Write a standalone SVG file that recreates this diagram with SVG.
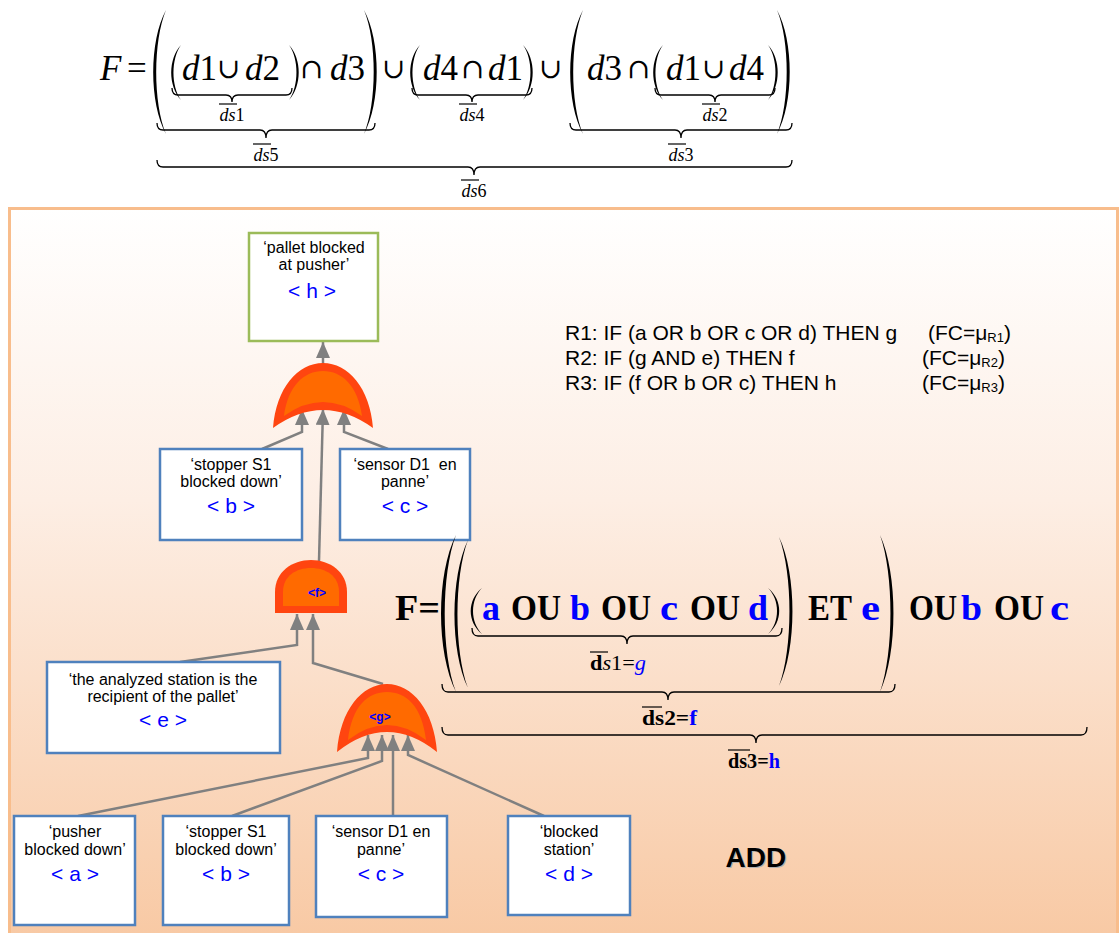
<svg xmlns="http://www.w3.org/2000/svg" width="1120" height="933" viewBox="0 0 1120 933">
<defs>
<linearGradient id="bg" x1="0" y1="0" x2="0" y2="1">
<stop offset="0" stop-color="#ffffff"/>
<stop offset="0.4" stop-color="#fdeee4"/>
<stop offset="1" stop-color="#f8c9a4"/>
</linearGradient>
<marker id="ah" viewBox="0 0 16 14" refX="16" refY="7" markerWidth="16" markerHeight="14" markerUnits="userSpaceOnUse" orient="auto"><path d="M0,0 L16,7 L0,14 Z" fill="#808080"/></marker>
</defs>
<style>
.m{font-family:"Liberation Serif","DejaVu Serif",serif;font-size:35px;fill:#000}
.op{font-family:"DejaVu Serif",serif;font-size:28px;fill:#000}
.i{font-style:italic}
.lbl{font-family:"Liberation Serif",serif;font-size:18px;fill:#000;text-anchor:middle}
.br{fill:none;stroke:#000;stroke-width:1.3}
.ol{stroke:#000;stroke-width:1.2}
.par{fill:#000}
.box{fill:#fff;stroke:#4f81bd;stroke-width:2.5}
.t{font-family:"Liberation Sans",Arial,sans-serif;font-size:16px;fill:#000;text-anchor:middle}
.v{font-family:"Liberation Sans",Arial,sans-serif;font-size:21px;fill:#0000ff;text-anchor:middle}
.cn{fill:none;stroke:#808080;stroke-width:2.5;marker-end:url(#ah)}
.go{fill:#ff4510}
.gi{fill:#ff6a00}
.gl{font-family:"Liberation Sans",Arial,sans-serif;font-weight:bold;font-size:12px;fill:#0000ff;text-anchor:middle}
.b{font-family:"Liberation Serif",serif;font-weight:bold;font-size:36px;fill:#000}
.bl{fill:#0000ff}
.sl{font-family:"Liberation Serif",serif;font-weight:bold;font-size:20px;fill:#000}
.r{font-family:"Liberation Sans",Arial,sans-serif;font-size:21px;fill:#000}
</style>
<rect width="1120" height="933" fill="#fff"/>

<!-- top formula -->
<g id="formula-top">
<text class="m i" x="100" y="80">F</text>
<text class="m" x="127" y="80">=</text>
<path class="par" d="M166,10 C149,41 149,103 166,134 C153,103 153,41 166,10 Z"/>
<path class="par" d="M364,10 C381,41 381,103 364,134 C377,103 377,41 364,10 Z"/>
<path class="par" d="M583,10 C566,41 566,103 583,134 C570,103 570,41 583,10 Z"/>
<path class="par" d="M777,10 C794,41 794,103 777,134 C790,103 790,41 777,10 Z"/>
<path class="par" d="M181,45 C168,59 168,86 181,100 C171,86 171,59 181,45 Z"/>
<path class="par" d="M289,45 C302,59 302,86 289,100 C299,86 299,59 289,45 Z"/>
<path class="par" d="M420,45 C407,59 407,86 420,100 C410,86 410,59 420,45 Z"/>
<path class="par" d="M523,45 C536,59 536,86 523,100 C533,86 533,59 523,45 Z"/>
<path class="par" d="M663,45 C650,59 650,86 663,100 C653,86 653,59 663,45 Z"/>
<path class="par" d="M768,45 C781,59 781,86 768,100 C778,86 778,59 768,45 Z"/>
<text class="m" x="182" y="80"><tspan class="i">d</tspan>1</text>
<text class="op" x="217" y="78">∪</text>
<text class="m" x="245" y="80"><tspan class="i">d</tspan>2</text>
<text class="op" x="300" y="78">∩</text>
<text class="m" x="330" y="80"><tspan class="i">d</tspan>3</text>
<text class="op" x="382" y="78">∪</text>
<text class="m" x="423" y="80"><tspan class="i">d</tspan>4</text>
<text class="op" x="461" y="78">∩</text>
<text class="m" x="488" y="80"><tspan class="i">d</tspan>1</text>
<text class="op" x="539" y="78">∪</text>
<text class="m" x="587" y="80"><tspan class="i">d</tspan>3</text>
<text class="op" x="627" y="78">∩</text>
<text class="m" x="666" y="80"><tspan class="i">d</tspan>1</text>
<text class="op" x="702" y="78">∪</text>
<text class="m" x="729" y="80"><tspan class="i">d</tspan>4</text>
<path class="br" d="M172,88 Q172,95 178,95 L226,95 Q232,95 232,102 Q232,95 238,95 L286,95 Q292,95 292,88"/>
<path class="br" d="M412,88 Q412,95 418,95 L466,95 Q472,95 472,102 Q472,95 478,95 L526,95 Q532,95 532,88"/>
<path class="br" d="M655,88 Q655,95 661,95 L709,95 Q715,95 715,102 Q715,95 721,95 L769,95 Q775,95 775,88"/>
<path class="br" d="M157,123 Q157,130 163,130 L260,130 Q266,130 266,138 Q266,130 272,130 L369,130 Q375,130 375,123"/>
<path class="br" d="M570,123 Q570,130 576,130 L675,130 Q681,130 681,138 Q681,130 687,130 L786,130 Q792,130 792,123"/>
<path class="br" d="M157,160 Q157,167 163,167 L468,167 Q474,167 474,175 Q474,167 480,167 L786,167 Q792,167 792,160"/>
<text class="lbl" x="232" y="121"><tspan class="i">ds</tspan>1</text>
<line class="ol" x1="219" y1="104" x2="237" y2="104"/>
<text class="lbl" x="472" y="121"><tspan class="i">ds</tspan>4</text>
<line class="ol" x1="459" y1="104" x2="477" y2="104"/>
<text class="lbl" x="715" y="121"><tspan class="i">ds</tspan>2</text>
<line class="ol" x1="702" y1="104" x2="720" y2="104"/>
<text class="lbl" x="266" y="161"><tspan class="i">ds</tspan>5</text>
<line class="ol" x1="253" y1="144" x2="271" y2="144"/>
<text class="lbl" x="681" y="161"><tspan class="i">ds</tspan>3</text>
<line class="ol" x1="668" y1="144" x2="686" y2="144"/>
<text class="lbl" x="474" y="197"><tspan class="i">ds</tspan>6</text>
<line class="ol" x1="461" y1="180" x2="479" y2="180"/>
</g>

<!-- panel -->
<rect id="panel" x="9.5" y="208.5" width="1108" height="730" fill="url(#bg)" stroke="#f8bd8c" stroke-width="3"/>

<!-- rules -->
<g id="rules">
<text class="r" x="565" y="340">R1: IF (a OR b OR c OR d) THEN g</text>
<text class="r" x="928" y="340">(FC=μ<tspan font-size="13" dy="2">R1</tspan><tspan dy="-2">)</tspan></text>
<text class="r" x="565" y="365">R2: IF (g AND e) THEN f</text>
<text class="r" x="922" y="365">(FC=μ<tspan font-size="13" dy="2">R2</tspan><tspan dy="-2">)</tspan></text>
<text class="r" x="565" y="390">R3: IF (f OR b OR c) THEN h</text>
<text class="r" x="922" y="390">(FC=μ<tspan font-size="13" dy="2">R3</tspan><tspan dy="-2">)</tspan></text>
</g>

<!-- connectors -->
<g id="connectors">
<path class="cn" d="M323,364 L323,342"/>
<path class="cn" d="M262,449 L302,432 L302,409"/>
<path class="cn" d="M319,561 L323,409"/>
<path class="cn" d="M388,449 L344,432 L344,409"/>
<path class="cn" d="M180,662 L297,645 L297,614"/>
<path class="cn" d="M383,684 L313,663 L313,614"/>
<path class="cn" d="M78,816 L368,758 L368,735"/>
<path class="cn" d="M232,816 L382,761 L382,735"/>
<path class="cn" d="M393,816 L393,735"/>
<path class="cn" d="M544,816 L408,755 L408,735"/>
</g>

<!-- nodes -->
<g id="node-h">
<rect x="249" y="233" width="129" height="108" fill="#fff" stroke="#9bbb59" stroke-width="2.5"/>
<text class="t" x="314" y="253">‘pallet blocked</text>
<text class="t" x="314" y="270">at pusher’</text>
<text class="v" x="312" y="298">&lt; h &gt;</text>
</g>
<g id="gate-h">
<path class="go" d="M273,428 C276,388 298,363 323,363 C348,363 370,388 373,428 Q323,392 273,428 Z"/>
<path class="gi" d="M284,416 C288,386 304,371 323,371 C342,371 358,386 362,416 Q323,388 284,416 Z"/>
</g>
<g id="node-b1">
<rect class="box" x="160" y="449" width="142" height="91"/>
<text class="t" x="231" y="470">‘stopper S1</text>
<text class="t" x="231" y="487">blocked down’</text>
<text class="v" x="231" y="513">&lt; b &gt;</text>
</g>
<g id="node-c1">
<rect class="box" x="340" y="449" width="130" height="91"/>
<text class="t" x="405" y="470">‘sensor D1&#160; en</text>
<text class="t" x="405" y="487">panne’</text>
<text class="v" x="405" y="513">&lt; c &gt;</text>
</g>
<g id="gate-f">
<path class="go" d="M275,613 L275,592 C275,572 292,560 311,560 C330,560 347,572 347,592 L347,613 Z"/>
<path class="gi" d="M283,606 L283,592 C283,576 296,568 311,568 C326,568 339,576 339,592 L339,606 Z"/>
<text class="gl" x="317" y="597">&lt;f&gt;</text>
</g>
<g id="node-e">
<rect class="box" x="47" y="662" width="233" height="91"/>
<text class="t" x="163" y="685">‘the analyzed station is the</text>
<text class="t" x="163" y="702">recipient of the pallet’</text>
<text class="v" x="163" y="727">&lt; e &gt;</text>
</g>
<g id="gate-g">
<path class="go" d="M337,752 C340,710 362,684 387,684 C412,684 434,710 437,752 Q387,712 337,752 Z"/>
<path class="gi" d="M348,740 C352,706 368,692 387,692 C406,692 422,706 426,740 Q387,710 348,740 Z"/>
<text class="gl" x="380" y="721" font-size="13">&lt;g&gt;</text>
</g>
<g id="node-a">
<rect class="box" x="14" y="816" width="121" height="109"/>
<text class="t" x="75" y="837">‘pusher</text>
<text class="t" x="75" y="855">blocked down’</text>
<text class="v" x="75" y="881">&lt; a &gt;</text>
</g>
<g id="node-b2">
<rect class="box" x="163" y="816" width="126" height="109"/>
<text class="t" x="226" y="837">‘stopper S1</text>
<text class="t" x="226" y="855">blocked down’</text>
<text class="v" x="226" y="881">&lt; b &gt;</text>
</g>
<g id="node-c2">
<rect class="box" x="316" y="816" width="131" height="101"/>
<text class="t" x="381" y="837">‘sensor D1 en</text>
<text class="t" x="381" y="855">panne’</text>
<text class="v" x="381" y="881">&lt; c &gt;</text>
</g>
<g id="node-d">
<rect class="box" x="508" y="816" width="122" height="99"/>
<text class="t" x="569" y="837">‘blocked</text>
<text class="t" x="569" y="855">station’</text>
<text class="v" x="569" y="881">&lt; d &gt;</text>
</g>

<!-- lower formula -->
<g id="formula-bottom">
<text class="b" x="395" y="620" textLength="45" lengthAdjust="spacingAndGlyphs">F=</text>
<path class="par" d="M456,535 C436,574 436,653 456,692 C441,653 441,574 456,535 Z"/>
<path class="par" d="M468,540 C450,577 450,651 468,688 C454,651 454,577 468,540 Z"/>
<path class="par" d="M779,537 C797,574 797,649 779,686 C793,649 793,574 779,537 Z"/>
<path class="par" d="M880,535 C898,574 898,653 880,692 C894,653 894,574 880,535 Z"/>
<path class="par" d="M482,588 C467,600 467,622 482,634 C470,622 470,600 482,588 Z"/>
<path class="par" d="M768,588 C783,600 783,622 768,634 C780,622 780,600 768,588 Z"/>
<text class="b bl" x="482" y="620" textLength="18" lengthAdjust="spacingAndGlyphs">a</text>
<text class="b" x="511" y="620" textLength="50" lengthAdjust="spacingAndGlyphs">OU</text>
<text class="b bl" x="570" y="620" textLength="20" lengthAdjust="spacingAndGlyphs">b</text>
<text class="b" x="601" y="620" textLength="50" lengthAdjust="spacingAndGlyphs">OU</text>
<text class="b bl" x="660" y="620" textLength="18" lengthAdjust="spacingAndGlyphs">c</text>
<text class="b" x="690" y="620" textLength="50" lengthAdjust="spacingAndGlyphs">OU</text>
<text class="b bl" x="748" y="620" textLength="20" lengthAdjust="spacingAndGlyphs">d</text>
<text class="b" x="808" y="620" textLength="44" lengthAdjust="spacingAndGlyphs">ET</text>
<text class="b bl" x="861" y="620" textLength="19" lengthAdjust="spacingAndGlyphs">e</text>
<text class="b" x="909" y="620" textLength="48" lengthAdjust="spacingAndGlyphs">OU</text>
<text class="b bl" x="961" y="620" textLength="21" lengthAdjust="spacingAndGlyphs">b</text>
<text class="b" x="994" y="620" textLength="50" lengthAdjust="spacingAndGlyphs">OU</text>
<text class="b bl" x="1050" y="620" textLength="19" lengthAdjust="spacingAndGlyphs">c</text>
<path class="br" d="M472,628 Q472,636 478,636 L621,636 Q627,636 627,644 Q627,636 633,636 L776,636 Q782,636 782,628"/>
<path class="br" d="M442,684 Q442,692 448,692 L662,692 Q668,692 668,700 Q668,692 674,692 L889,692 Q895,692 895,684"/>
<path class="br" d="M442,727 Q442,735 448,735 L750,735 Q756,735 756,743 Q756,735 762,735 L1081,735 Q1087,735 1087,727"/>
<text class="sl" x="590" y="670" textLength="56" lengthAdjust="spacingAndGlyphs">d<tspan font-weight="normal" font-style="italic">s</tspan><tspan font-weight="normal">1=</tspan><tspan class="bl" font-weight="normal" font-style="italic">g</tspan></text>
<line class="ol" x1="590" y1="652" x2="608" y2="652"/>
<text class="sl" x="642" y="725" textLength="55" lengthAdjust="spacingAndGlyphs">ds2=<tspan class="bl">f</tspan></text>
<line class="ol" x1="642" y1="707" x2="662" y2="707"/>
<text class="sl" x="728" y="768" textLength="52" lengthAdjust="spacingAndGlyphs">ds3=<tspan class="bl">h</tspan></text>
<line class="ol" x1="728" y1="750" x2="750" y2="750"/>
</g>

<g id="label-add">
<text x="726.5" y="867.5" font-family="'Liberation Sans',Arial,sans-serif" font-weight="bold" font-size="28" fill="#b0b0b0">ADD</text>
<text x="725.5" y="866.5" font-family="'Liberation Sans',Arial,sans-serif" font-weight="bold" font-size="28" fill="#000">ADD</text>
</g>
</svg>
